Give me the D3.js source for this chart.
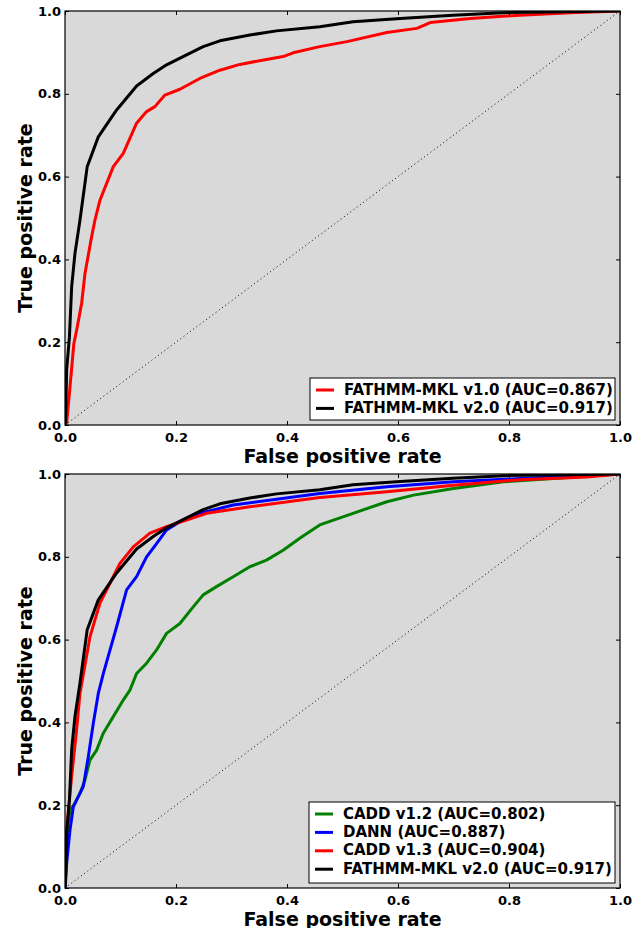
<!DOCTYPE html>
<html>
<head>
<meta charset="utf-8">
<script src="https://cdn.jsdelivr.net/npm/d3@7"></script>
<style>
  body { margin: 0; background: #fff; }
  text { font-family: "DejaVu Sans", sans-serif; font-weight: bold; }
</style>
</head>
<body>
<div id="chart"></div>
<script>
// ROC curves: [fpr, tpr]
var fathmmV1 = [[0,0],[0.003,0.005],[0.009,0.092],[0.016,0.197],[0.021,0.229],[0.030,0.294],[0.036,0.366],[0.048,0.455],
  [0.054,0.495],[0.063,0.543],[0.087,0.624],[0.105,0.656],[0.129,0.729],[0.147,0.757],[0.162,0.769],[0.180,0.797],
  [0.207,0.811],[0.243,0.837],[0.279,0.857],[0.315,0.871],[0.363,0.883],[0.393,0.890],[0.411,0.899],[0.459,0.914],
  [0.508,0.926],[0.580,0.948],[0.634,0.958],[0.658,0.972],[0.730,0.982],[0.820,0.990],[0.910,0.996],[1,1]];

var fathmmV2 = [[0,0],[0.001,0.012],[0.003,0.133],[0.008,0.213],[0.012,0.334],[0.018,0.415],[0.027,0.495],[0.040,0.624],
  [0.060,0.696],[0.093,0.761],[0.129,0.819],[0.159,0.849],[0.183,0.870],[0.219,0.894],[0.249,0.914],[0.279,0.928],
  [0.333,0.942],[0.381,0.952],[0.459,0.962],[0.519,0.974],[0.604,0.982],[0.699,0.990],[0.790,0.996],[1,1]];

var cadd12 = [[0,0],[0.002,0.08],[0.005,0.15],[0.009,0.188],[0.018,0.205],[0.027,0.229],[0.036,0.261],[0.045,0.309],
  [0.057,0.333],[0.069,0.374],[0.087,0.414],[0.105,0.454],[0.117,0.478],[0.129,0.518],[0.147,0.543],[0.165,0.575],
  [0.183,0.615],[0.207,0.639],[0.231,0.679],[0.249,0.708],[0.273,0.728],[0.303,0.752],[0.333,0.776],[0.363,0.792],
  [0.393,0.816],[0.423,0.845],[0.459,0.877],[0.519,0.905],[0.580,0.933],[0.628,0.949],[0.700,0.965],[0.790,0.981],
  [0.880,0.989],[1,1]];

var dann = [[0,0],[0.003,0.060],[0.009,0.140],[0.015,0.196],[0.021,0.213],[0.033,0.245],[0.042,0.317],[0.051,0.398],
  [0.060,0.470],[0.069,0.518],[0.093,0.631],[0.111,0.720],[0.129,0.752],[0.147,0.800],[0.165,0.832],[0.183,0.865],
  [0.207,0.885],[0.243,0.905],[0.303,0.925],[0.459,0.953],[0.580,0.969],[0.700,0.981],[0.820,0.989],[1,1]];

var cadd13 = [[0,0.1],[0.005,0.17],[0.012,0.27],[0.020,0.37],[0.027,0.470],[0.045,0.607],[0.063,0.688],[0.081,0.736],
  [0.099,0.784],[0.123,0.824],[0.153,0.857],[0.183,0.873],[0.219,0.889],[0.255,0.905],[0.333,0.921],[0.459,0.943],
  [0.580,0.957],[0.700,0.973],[0.820,0.986],[0.940,0.993],[1,1]];

var topSeries = [
  {name: "FATHMM-MKL v1.0 (AUC=0.867)", color: "#ff0000", values: fathmmV1},
  {name: "FATHMM-MKL v2.0 (AUC=0.917)", color: "#000000", values: fathmmV2}
];
var bottomSeries = [
  {name: "CADD v1.2 (AUC=0.802)", color: "#008000", values: cadd12},
  {name: "DANN (AUC=0.887)", color: "#0000ff", values: dann},
  {name: "CADD v1.3 (AUC=0.904)", color: "#ff0000", values: cadd13},
  {name: "FATHMM-MKL v2.0 (AUC=0.917)", color: "#000000", values: fathmmV2}
];
var tickValues = [0, 0.2, 0.4, 0.6, 0.8, 1.0];

var svg = d3.select("#chart")
    .append("svg")
    .attr("width", 641)
    .attr("height", 928);

var width = 555;
var height = 414;

function drawPanel(top, series, legendBox) {
    var g = svg.append("g")
        .attr("transform", `translate(65, ${top})`);

    var x = d3.scaleLinear().domain([0, 1]).range([0, width]);
    var y = d3.scaleLinear().domain([0, 1]).range([height, 0]);

    g.append("rect")
        .attr("width", width)
        .attr("height", height)
        .attr("fill", "#d9d9d9");

    // chance line
    g.append("line")
        .attr("x1", x(0)).attr("y1", y(0))
        .attr("x2", x(1)).attr("y2", y(1))
        .attr("stroke", "#000")
        .attr("stroke-width", 1)
        .attr("stroke-dasharray", "1,3");

    var line = d3.line()
        .x(d => x(d[0]))
        .y(d => y(d[1]));

    g.append("defs").append("clipPath")
        .attr("id", "clip" + top)
        .append("rect")
        .attr("width", width)
        .attr("height", height);

    g.append("g")
        .attr("clip-path", `url(#clip${top})`)
        .selectAll("path")
        .data(series)
        .enter()
        .append("path")
        .attr("d", d => line(d.values))
        .attr("fill", "none")
        .attr("stroke", d => d.color)
        .attr("stroke-width", 3)
        .attr("stroke-linejoin", "round");

    var fmt = d3.format(".1f");

    g.append("g")
        .attr("transform", `translate(0, ${height})`)
        .call(d3.axisBottom(x).tickValues(tickValues).tickFormat(fmt).tickSize(-4).tickPadding(8));
    g.append("g")
        .call(d3.axisLeft(y).tickValues(tickValues).tickFormat(fmt).tickSize(-4).tickPadding(4));
    g.append("g")
        .call(d3.axisTop(x).tickValues(tickValues).tickFormat("").tickSize(-4));
    g.append("g")
        .attr("transform", `translate(${width}, 0)`)
        .call(d3.axisRight(y).tickValues(tickValues).tickFormat("").tickSize(-4));

    g.selectAll(".domain").remove();
    g.selectAll(".tick line").attr("stroke", "#000");
    g.selectAll(".tick text")
        .style("font-size", "13px")
        .style("font-family", "DejaVu Sans")
        .style("font-weight", "bold")
        .attr("fill", "#000");

    g.append("rect")
        .attr("width", width)
        .attr("height", height)
        .attr("fill", "none")
        .attr("stroke", "#000")
        .attr("stroke-width", 1.2);

    // axis titles
    g.append("text")
        .attr("x", width / 2)
        .attr("y", height + 38)
        .style("text-anchor", "middle")
        .style("font-size", "19px")
        .text("False positive rate");

    g.append("text")
        .attr("transform", "rotate(-90)")
        .attr("x", -height / 2)
        .attr("y", -33)
        .style("text-anchor", "middle")
        .style("font-size", "19px")
        .text("True positive rate");

    // legend
    var legend = g.append("g")
        .attr("transform", `translate(${legendBox.x - 65}, ${legendBox.y - top})`);
    legend.append("rect")
        .attr("width", legendBox.w)
        .attr("height", legendBox.h)
        .attr("fill", "#fff")
        .attr("stroke", "#000")
        .attr("stroke-width", 1);

    var items = legend.selectAll(".item")
        .data(series)
        .enter()
        .append("g")
        .attr("transform", (d, i) => `translate(0, ${16.5 + i * 18.4})`);
    items.append("line")
        .attr("x1", 6).attr("x2", 24)
        .attr("y1", -4.5).attr("y2", -4.5)
        .attr("stroke", d => d.color)
        .attr("stroke-width", 3);
    items.append("text")
        .attr("x", 34)
        .attr("y", 0)
        .style("font-size", "15px")
        .text(d => d.name);
}

drawPanel(11, topSeries, {x: 310, y: 378, w: 305, h: 42});
drawPanel(474, bottomSeries, {x: 309, y: 802, w: 306, h: 81});
</script>
</body>
</html>
